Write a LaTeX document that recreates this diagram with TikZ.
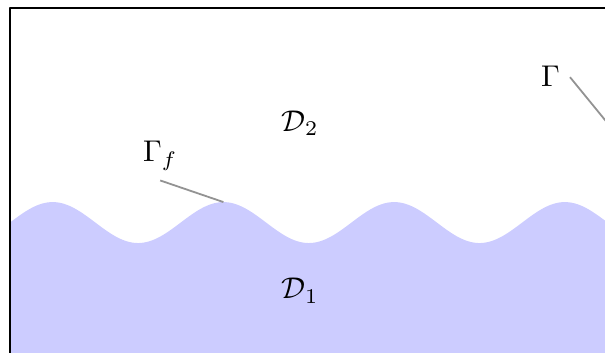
\documentclass[tikz,border=0pt]{standalone}
\begin{document}
\begin{tikzpicture}[line join=round]
    \useasboundingbox (-0.117,0.094) rectangle (6.97,-4.03);

    % lower domain below the wavy interface
    \fill[blue!20] (0,-4.5) -- plot[domain=0:7.5,samples=120,smooth] (\x,{-2.513+0.24*sin(180*\x)}) -- (7.5,-4.5) -- cycle;
    \draw[semithick] (0,0) rectangle (7.5,-4.5);

    \node (D2) at (3.40,-1.35) {\(\mathcal{D}_2\)};
    \node (D1) at (3.40,-3.31) {\(\mathcal{D}_1\)};

    \coordinate (Gfa) at (1.76,-2.02);
    \coordinate (Gfb) at (2.5,-2.273);
    \node (Gf) at (1.76,-1.73) {\(\Gamma_f\)};
    \draw[gray!85,semithick] (Gfa) -- (Gfb);

    \coordinate (Ga) at (6.56,-0.81);
    \coordinate (Gb) at (7.5,-1.96);
    \node (G) at (6.33,-0.80) {\(\Gamma\)};
    \draw[gray!85,semithick] (Ga) -- (Gb);
\end{tikzpicture}
\end{document}
